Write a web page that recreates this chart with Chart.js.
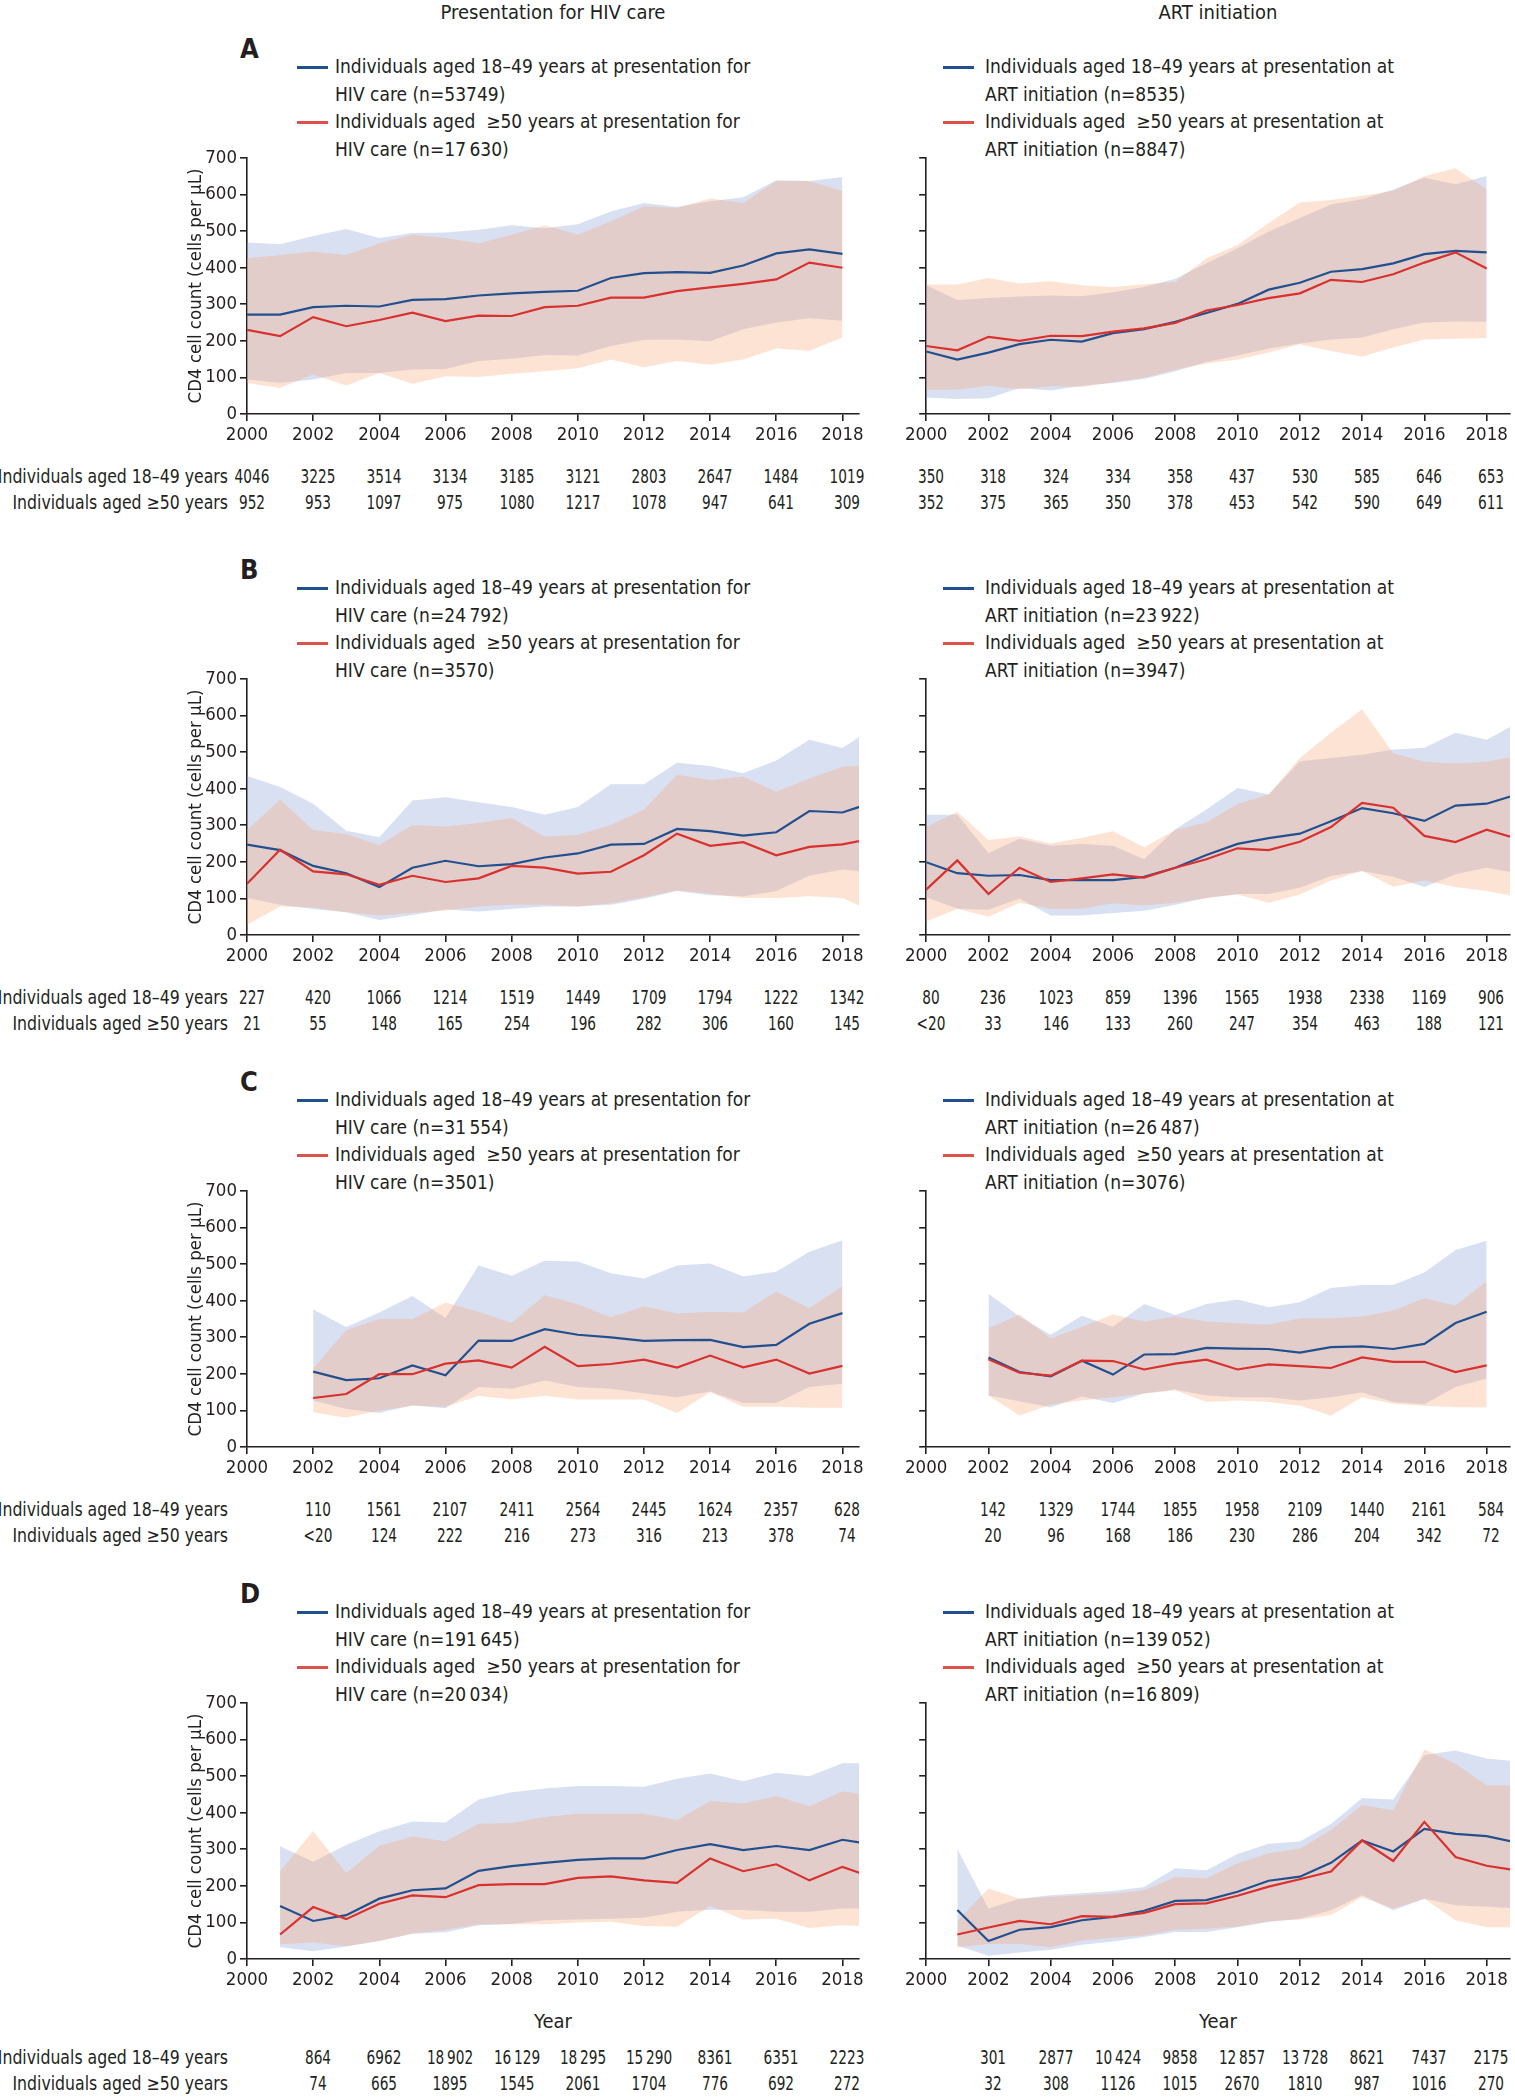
<!DOCTYPE html>
<html>
<head>
<meta charset="utf-8">
<script src="https://cdn.jsdelivr.net/npm/chart.js@4.4.0/dist/chart.umd.min.js"></script>
<style>
  body { margin: 0; background: #fff; }
  #page { position: relative; width: 1515px; height: 2100px; overflow: hidden;
          font-family: 'Liberation Sans Narrow', 'DejaVu Sans Condensed', sans-serif; color: #231f20; }
  .t { position: absolute; white-space: pre; font-size: 20px; line-height: 24px; }
  .leg { position: absolute; white-space: pre; font-size: 19px; line-height: 27.5px; }
  .swatch { position: absolute; height: 3px; width: 31px; }
  canvas { position: absolute; }
</style>
</head>
<body>
<div id="page"></div>
<script>
"use strict";

// x values (years), 2019 only matters where the line runs past the axis end
var years = [2000, 2001, 2002, 2003, 2004, 2005, 2006, 2007, 2008, 2009,
             2010, 2011, 2012, 2013, 2014, 2015, 2016, 2017, 2018, 2019];
var tableYearsAll = [2000, 2002, 2004, 2006, 2008, 2010, 2012, 2014, 2016, 2018];
var tableYearsLate = [2002, 2004, 2006, 2008, 2010, 2012, 2014, 2016, 2018];

// ---- A, presentation for HIV care
var aLeftYoung   = [272, 272, 292, 296, 294, 312, 314, 324, 330, 334, 337, 372, 385, 388, 386, 406, 439, 450, 438, null];
var aLeftYoungQ3 = [469, 464, 487, 506, 481, 495, 496, 504, 516, 508, 519, 554, 577, 566, 582, 593, 639, 637, 648, null];
var aLeftYoungQ1 = [94, 85, 94, 112, 112, 122, 123, 145, 151, 161, 160, 186, 203, 204, 199, 232, 250, 262, 255, null];
var aLeftOld     = [230, 213, 265, 240, 257, 277, 254, 269, 268, 292, 296, 318, 318, 336, 346, 356, 368, 414, 400, null];
var aLeftOldQ3   = [426, 435, 444, 435, 467, 490, 481, 467, 490, 516, 490, 527, 568, 564, 589, 577, 637, 637, 610, null];
var aLeftOldQ1   = [85, 71, 108, 78, 112, 83, 103, 101, 110, 117, 125, 149, 128, 145, 135, 149, 179, 173, 209, null];
// ---- A, ART initiation
var aRightYoung   = [171, 149, 168, 191, 203, 198, 221, 232, 252, 276, 301, 340, 359, 389, 396, 412, 437, 446, 442, null];
var aRightYoungQ3 = [352, 312, 317, 321, 324, 322, 333, 347, 370, 412, 453, 499, 536, 573, 587, 614, 646, 628, 651, null];
var aRightYoungQ1 = [45, 41, 43, 71, 64, 77, 85, 96, 117, 142, 160, 179, 193, 204, 209, 232, 250, 253, 252, null];
var aRightOld     = [186, 174, 211, 200, 214, 213, 225, 234, 249, 283, 298, 317, 330, 367, 361, 382, 414, 442, 398, null];
var aRightOldQ3   = [354, 354, 372, 357, 363, 352, 347, 355, 361, 426, 462, 522, 578, 585, 597, 610, 651, 672, 614, null];
var aRightOldQ1   = [66, 66, 77, 68, 76, 74, 87, 99, 121, 138, 149, 168, 191, 172, 157, 182, 204, 206, 208, null];

// ---- B
var bLeftYoung   = [247, 232, 189, 169, 131, 184, 203, 188, 194, 212, 223, 247, 249, 290, 284, 272, 281, 339, 335, 365];
var bLeftYoungQ3 = [435, 405, 359, 285, 267, 368, 377, 363, 350, 329, 350, 412, 412, 471, 462, 442, 477, 534, 511, 570];
var bLeftYoungQ1 = [101, 83, 71, 62, 41, 55, 70, 64, 71, 78, 78, 83, 99, 120, 109, 106, 120, 162, 179, 170];
var bLeftOld     = [140, 233, 174, 166, 137, 162, 145, 155, 189, 184, 168, 173, 218, 277, 244, 254, 218, 241, 248, 265];
var bLeftOldQ3   = [287, 370, 287, 276, 246, 301, 297, 306, 320, 269, 274, 301, 343, 438, 424, 433, 392, 428, 460, 465];
var bLeftOldQ1   = [28, 78, 75, 62, 53, 60, 67, 78, 83, 83, 78, 87, 103, 122, 113, 101, 101, 106, 101, 60];
var bRightYoung   = [199, 169, 162, 164, 150, 150, 150, 159, 184, 219, 249, 265, 277, 311, 347, 333, 312, 354, 359, 385];
var bRightYoungQ3 = [329, 329, 224, 263, 244, 249, 244, 207, 289, 343, 402, 384, 475, 484, 493, 507, 512, 553, 534, 580];
var bRightYoungQ1 = [103, 72, 69, 100, 53, 53, 60, 66, 83, 101, 112, 112, 129, 161, 175, 159, 131, 166, 184, 168];
var bRightOld     = [124, 204, 112, 184, 145, 155, 166, 157, 184, 207, 237, 232, 255, 295, 361, 348, 271, 254, 288, 263];
var bRightOldQ3   = [295, 337, 260, 269, 250, 266, 284, 240, 287, 308, 358, 384, 484, 553, 617, 497, 474, 469, 474, 490];
var bRightOldQ1   = [37, 72, 50, 88, 72, 72, 87, 81, 88, 101, 111, 88, 111, 149, 175, 132, 149, 131, 120, 104];

// ---- C
var cLeftYoung   = [null, null, 206, 183, 188, 223, 196, 291, 290, 322, 307, 300, 290, 292, 293, 273, 279, 337, 366, null];
var cLeftYoungQ3 = [null, null, 376, 328, 368, 413, 353, 496, 468, 509, 507, 475, 461, 496, 502, 466, 479, 534, 565, null];
var cLeftYoungQ1 = [null, null, 127, 104, 93, 114, 106, 164, 159, 182, 164, 159, 146, 136, 152, 120, 120, 164, 173, null];
var cLeftOld     = [null, null, 134, 145, 199, 199, 228, 237, 217, 274, 221, 227, 239, 217, 250, 218, 239, 201, 222, null];
var cLeftOldQ3   = [null, null, 215, 320, 350, 350, 395, 370, 340, 415, 390, 355, 385, 365, 370, 368, 425, 380, 440, null];
var cLeftOldQ1   = [null, null, 95, 80, 100, 113, 110, 140, 130, 140, 130, 130, 130, 93, 150, 110, 110, 107, 107, null];
var cRightYoung   = [null, null, 245, 205, 193, 236, 198, 253, 254, 271, 269, 268, 258, 273, 275, 268, 282, 339, 370, null];
var cRightYoungQ3 = [null, null, 419, 357, 307, 359, 329, 391, 361, 391, 403, 382, 396, 435, 443, 443, 477, 539, 564, null];
var cRightYoungQ1 = [null, null, 141, 125, 109, 138, 120, 146, 157, 141, 136, 136, 127, 136, 149, 123, 117, 164, 187, null];
var cRightOld     = [null, null, 240, 203, 195, 236, 235, 212, 228, 239, 212, 226, 221, 216, 245, 233, 233, 205, 223, null];
var cRightOldQ3   = [null, null, 325, 362, 297, 329, 362, 343, 357, 343, 339, 334, 352, 352, 357, 373, 407, 387, 453, null];
var cRightOldQ1   = [null, null, 141, 86, 116, 127, 136, 146, 155, 123, 127, 123, 113, 86, 136, 118, 113, 109, 109, null];

// ---- D
var dLeftYoung   = [null, 145, 104, 120, 165, 188, 193, 241, 254, 263, 271, 275, 275, 298, 314, 298, 309, 298, 326, 312];
var dLeftYoungQ3 = [null, 308, 266, 312, 349, 376, 373, 436, 456, 466, 473, 473, 471, 493, 507, 486, 509, 500, 535, 535];
var dLeftYoungQ1 = [null, 32, 21, 34, 49, 69, 73, 92, 96, 106, 108, 110, 113, 129, 135, 134, 129, 129, 138, 138];
var dLeftOld     = [null, 67, 142, 109, 151, 174, 169, 202, 205, 205, 222, 226, 215, 208, 275, 240, 259, 215, 252, 220];
var dLeftOldQ3   = [null, 240, 350, 235, 310, 335, 322, 370, 372, 388, 397, 397, 397, 380, 432, 425, 446, 418, 459, 445];
var dLeftOldQ1   = [null, 40, 45, 35, 50, 70, 80, 95, 95, 95, 100, 102, 90, 88, 145, 108, 110, 85, 92, 88];
var dRightYoung   = [null, 134, 49, 80, 87, 106, 115, 132, 159, 161, 184, 214, 225, 263, 324, 294, 356, 342, 336, 318];
var dRightYoungQ3 = [null, 301, 138, 165, 174, 180, 186, 197, 248, 243, 287, 315, 321, 369, 440, 436, 558, 570, 548, 540];
var dRightYoungQ1 = [null, 37, 9, 18, 25, 39, 48, 60, 74, 74, 87, 101, 110, 133, 174, 133, 165, 147, 143, 138];
var dRightOld     = [null, 67, 86, 104, 95, 117, 115, 126, 150, 152, 173, 198, 218, 239, 324, 268, 375, 279, 255, 242];
var dRightOldQ3   = [null, 104, 193, 165, 170, 174, 179, 188, 224, 221, 262, 289, 302, 353, 421, 407, 573, 534, 475, 475];
var dRightOldQ1   = [null, 32, 41, 41, 32, 50, 58, 64, 80, 83, 89, 103, 108, 120, 169, 138, 165, 106, 87, 87];

// numbers at risk tables
var aLeftNYoung  = ['4046', '3225', '3514', '3134', '3185', '3121', '2803', '2647', '1484', '1019'];
var aLeftNOld    = ['952', '953', '1097', '975', '1080', '1217', '1078', '947', '641', '309'];
var aRightNYoung = ['350', '318', '324', '334', '358', '437', '530', '585', '646', '653'];
var aRightNOld   = ['352', '375', '365', '350', '378', '453', '542', '590', '649', '611'];
var bLeftNYoung  = ['227', '420', '1066', '1214', '1519', '1449', '1709', '1794', '1222', '1342'];
var bLeftNOld    = ['21', '55', '148', '165', '254', '196', '282', '306', '160', '145'];
var bRightNYoung = ['80', '236', '1023', '859', '1396', '1565', '1938', '2338', '1169', '906'];
var bRightNOld   = ['<20', '33', '146', '133', '260', '247', '354', '463', '188', '121'];
var cLeftNYoung  = ['110', '1561', '2107', '2411', '2564', '2445', '1624', '2357', '628'];
var cLeftNOld    = ['<20', '124', '222', '216', '273', '316', '213', '378', '74'];
var cRightNYoung = ['142', '1329', '1744', '1855', '1958', '2109', '1440', '2161', '584'];
var cRightNOld   = ['20', '96', '168', '186', '230', '286', '204', '342', '72'];
var dLeftNYoung  = ['864', '6962', '18\u2009902', '16\u2009129', '18\u2009295', '15\u2009290', '8361', '6351', '2223'];
var dLeftNOld    = ['74', '665', '1895', '1545', '2061', '1704', '776', '692', '272'];
var dRightNYoung = ['301', '2877', '10\u2009424', '9858', '12\u2009857', '13\u2009728', '8621', '7437', '2175'];
var dRightNOld   = ['32', '308', '1126', '1015', '2670', '1810', '987', '1016', '270'];

var nLeftYoung  = ['53749', '24\u2009792', '31\u2009554', '191\u2009645'];
var nLeftOld    = ['17\u2009630', '3570', '3501', '20\u2009034'];
var nRightYoung = ['8535', '23\u2009922', '26\u2009487', '139\u2009052'];
var nRightOld   = ['8847', '3947', '3076', '16\u2009809'];
var panelLetters = ['A', 'B', 'C', 'D'];

(function () {
    var INK = '#231f20';
    var BLUE = '#22508f';
    var RED = '#d8312e';
    var BLUE_BAND = 'rgba(140, 160, 215, 0.33)';
    var RED_BAND = 'rgba(250, 165, 115, 0.31)';
    var FONT = "'Liberation Sans Narrow', 'DejaVu Sans Condensed', sans-serif";

    Chart.defaults.font.family = FONT;
    Chart.defaults.font.size = 18.5;
    Chart.defaults.color = INK;

    var page = document.getElementById('page');

    // layout (px)
    var rowShift = [0, 521, 1033, 1545];
    var PLOT_TOP = 158, PLOT_H = 256;
    var LEFT_X = 247, LEFT_W = 612, LEFT_MAX = 2018.5;
    var RIGHT_X = 926, RIGHT_W = 584, RIGHT_MAX = 2018.75;
    var Y_W_LEFT = 62;

    // squeeze: horizontal scale for the narrow table type
    function text(str, x, y, align, extra, squeeze) {
        var d = document.createElement('div');
        d.className = 't';
        d.textContent = str;
        d.style.left = x + 'px';
        d.style.top = y + 'px';
        var tx = align === 'center' ? '-50%' : (align === 'right' ? '-100%' : '0');
        d.style.transformOrigin = (align === 'center' ? 'center' : align) + ' center';
        d.style.transform = 'translate(' + tx + ', -50%)' + (squeeze ? ' scaleX(' + squeeze + ')' : '');
        if (extra) {
            for (var k in extra) d.style[k] = extra[k];
        }
        page.appendChild(d);
        return d;
    }

    function pts(arr) {
        return years.map(function (yr, i) { return { x: yr, y: arr[i] }; });
    }

    function makeConfig(s, isLeft, xMax) {
        var tickGrid = { display: true, drawOnChartArea: false, drawTicks: true, tickLength: 7, color: INK, lineWidth: 1.6 };
        var band = { borderWidth: 0, borderColor: 'transparent', pointRadius: 0, tension: 0 };
        return {
            type: 'line',
            data: {
                datasets: [
                    { data: pts(s.old), borderColor: RED, borderWidth: 2.2, pointRadius: 0, fill: false, order: 0 },
                    { data: pts(s.young), borderColor: BLUE, borderWidth: 2.2, pointRadius: 0, fill: false, order: 1 },
                    Object.assign({ data: pts(s.oldHi), backgroundColor: RED_BAND, fill: '+1', order: 2 }, band),
                    Object.assign({ data: pts(s.oldLo), fill: false, order: 2 }, band),
                    Object.assign({ data: pts(s.youngHi), backgroundColor: BLUE_BAND, fill: '+1', order: 3 }, band),
                    Object.assign({ data: pts(s.youngLo), fill: false, order: 3 }, band)
                ]
            },
            options: {
                responsive: false,
                animation: false,
                events: [],
                layout: { padding: { top: 16, right: 18, left: 0, bottom: 0 } },
                plugins: { legend: { display: false }, tooltip: { enabled: false } },
                scales: {
                    x: {
                        type: 'linear', min: 2000, max: xMax,
                        afterFit: function (sc) { sc.height = 40; },
                        ticks: { stepSize: 2, includeBounds: false, autoSkip: false, maxRotation: 0, padding: 3,
                                 callback: function (v) { return String(v); } },
                        grid: tickGrid,
                        border: { color: INK, width: 1.6 }
                    },
                    y: {
                        min: 0, max: 700,
                        afterFit: function (sc) { sc.width = isLeft ? Y_W_LEFT : 14; },
                        ticks: { stepSize: 100, padding: 3,
                                 callback: function (v) { return isLeft ? String(v) : ''; } },
                        grid: tickGrid,
                        border: { color: INK, width: 1.6 },
                        title: { display: isLeft, text: 'CD4 cell count (cells per \u00b5L)', padding: { top: 0, bottom: 2 } }
                    }
                }
            }
        };
    }

    function placeChart(s, isLeft, area) {
        var canvas = document.createElement('canvas');
        page.appendChild(canvas);
        var xMax = isLeft ? LEFT_MAX : RIGHT_MAX;
        var cw = area.w + (isLeft ? Y_W_LEFT : 14) + 18;
        var ch = area.h + 16 + 40;
        canvas.width = cw;
        canvas.height = ch;
        var chart = new Chart(canvas, makeConfig(s, isLeft, xMax));
        var ca = chart.chartArea;
        var dw = area.w - (ca.right - ca.left), dh = area.h - (ca.bottom - ca.top);
        if (Math.abs(dw) > 0.5 || Math.abs(dh) > 0.5) {
            chart.destroy();
            canvas.width = Math.round(cw + dw);
            canvas.height = Math.round(ch + dh);
            chart = new Chart(canvas, makeConfig(s, isLeft, xMax));
            ca = chart.chartArea;
        }
        var offX = area.x - ca.left, offY = area.y - ca.top;
        canvas.style.left = offX + 'px';
        canvas.style.top = offY + 'px';
        return { chart: chart, offX: offX };
    }

    function legend(x, y0, young, old, isLeft) {
        var tail = isLeft ? 'HIV care' : 'ART initiation';
        var mid = isLeft ? 'for' : 'at';
        var lines = 'Individuals aged 18\u201349 years at presentation ' + mid + '\n' + tail + ' (n=' + young + ')\n' +
                    'Individuals aged  \u226550 years at presentation ' + mid + '\n' + tail + ' (n=' + old + ')';
        var lx = isLeft ? 297 : 943;
        var d = document.createElement('div');
        d.className = 'leg';
        d.textContent = lines;
        d.style.left = x + 'px';
        d.style.top = y0 + 'px';
        page.appendChild(d);
        var s1 = document.createElement('div');
        s1.className = 'swatch';
        s1.style.background = BLUE;
        s1.style.left = lx + 'px';
        s1.style.top = (y0 + 13) + 'px';
        page.appendChild(s1);
        var s2 = document.createElement('div');
        s2.className = 'swatch';
        s2.style.background = '#e0504a';
        s2.style.left = lx + 'px';
        s2.style.top = (y0 + 13 + 55) + 'px';
        page.appendChild(s2);
    }

    var series = [
        [{ young: aLeftYoung, youngHi: aLeftYoungQ3, youngLo: aLeftYoungQ1, old: aLeftOld, oldHi: aLeftOldQ3, oldLo: aLeftOldQ1 },
         { young: aRightYoung, youngHi: aRightYoungQ3, youngLo: aRightYoungQ1, old: aRightOld, oldHi: aRightOldQ3, oldLo: aRightOldQ1 }],
        [{ young: bLeftYoung, youngHi: bLeftYoungQ3, youngLo: bLeftYoungQ1, old: bLeftOld, oldHi: bLeftOldQ3, oldLo: bLeftOldQ1 },
         { young: bRightYoung, youngHi: bRightYoungQ3, youngLo: bRightYoungQ1, old: bRightOld, oldHi: bRightOldQ3, oldLo: bRightOldQ1 }],
        [{ young: cLeftYoung, youngHi: cLeftYoungQ3, youngLo: cLeftYoungQ1, old: cLeftOld, oldHi: cLeftOldQ3, oldLo: cLeftOldQ1 },
         { young: cRightYoung, youngHi: cRightYoungQ3, youngLo: cRightYoungQ1, old: cRightOld, oldHi: cRightOldQ3, oldLo: cRightOldQ1 }],
        [{ young: dLeftYoung, youngHi: dLeftYoungQ3, youngLo: dLeftYoungQ1, old: dLeftOld, oldHi: dLeftOldQ3, oldLo: dLeftOldQ1 },
         { young: dRightYoung, youngHi: dRightYoungQ3, youngLo: dRightYoungQ1, old: dRightOld, oldHi: dRightOldQ3, oldLo: dRightOldQ1 }]
    ];
    var tables = [
        [[aLeftNYoung, aLeftNOld], [aRightNYoung, aRightNOld]],
        [[bLeftNYoung, bLeftNOld], [bRightNYoung, bRightNOld]],
        [[cLeftNYoung, cLeftNOld], [cRightNYoung, cRightNOld]],
        [[dLeftNYoung, dLeftNOld], [dRightNYoung, dRightNOld]]
    ];

    // column headers
    text('Presentation for HIV care', LEFT_X + LEFT_W / 2, 12, 'center');
    text('ART initiation', RIGHT_X + RIGHT_W / 2, 12, 'center');

    var tableFont = { fontSize: '19px' };
    for (var r = 0; r < 4; r++) {
        var plotTop = PLOT_TOP + rowShift[r];
        var plotBottom = plotTop + PLOT_H;
        text(panelLetters[r], LEFT_X - 7, plotTop - 109, 'left', { fontWeight: 'bold', fontSize: '27px', lineHeight: '30px' });
        legend(335, plotTop - 91 - 14, nLeftYoung[r], nLeftOld[r], true);
        legend(985, plotTop - 91 - 14, nRightYoung[r], nRightOld[r], false);

        var last = r === 3;
        var rowY1 = plotBottom + (last ? 98 : 62);
        var rowY2 = plotBottom + (last ? 124 : 88);
        text('Individuals aged 18\u201349 years', 228, rowY1, 'right', tableFont, 0.92);
        text('Individuals aged \u226550 years', 228, rowY2, 'right', tableFont, 0.92);
        if (last) {
            text('Year', LEFT_X + LEFT_W / 2, plotBottom + 62, 'center');
            text('Year', RIGHT_X + RIGHT_W / 2, plotBottom + 62, 'center');
        }

        for (var side = 0; side < 2; side++) {
            var isLeft = side === 0;
            var area = isLeft ? { x: LEFT_X, y: plotTop, w: LEFT_W, h: PLOT_H } : { x: RIGHT_X, y: plotTop, w: RIGHT_W, h: PLOT_H };
            var placed = placeChart(series[r][side], isLeft, area);
            var tabYears = r < 2 ? tableYearsAll : tableYearsLate;
            var xs = placed.chart.scales.x;
            for (var i = 0; i < tabYears.length; i++) {
                var px = placed.offX + xs.getPixelForValue(tabYears[i]) + 5;
                text(tables[r][side][0][i], px, rowY1, 'center', tableFont, 0.8);
                text(tables[r][side][1][i], px, rowY2, 'center', tableFont, 0.8);
            }
        }
    }
})();
</script>
</body>
</html>
